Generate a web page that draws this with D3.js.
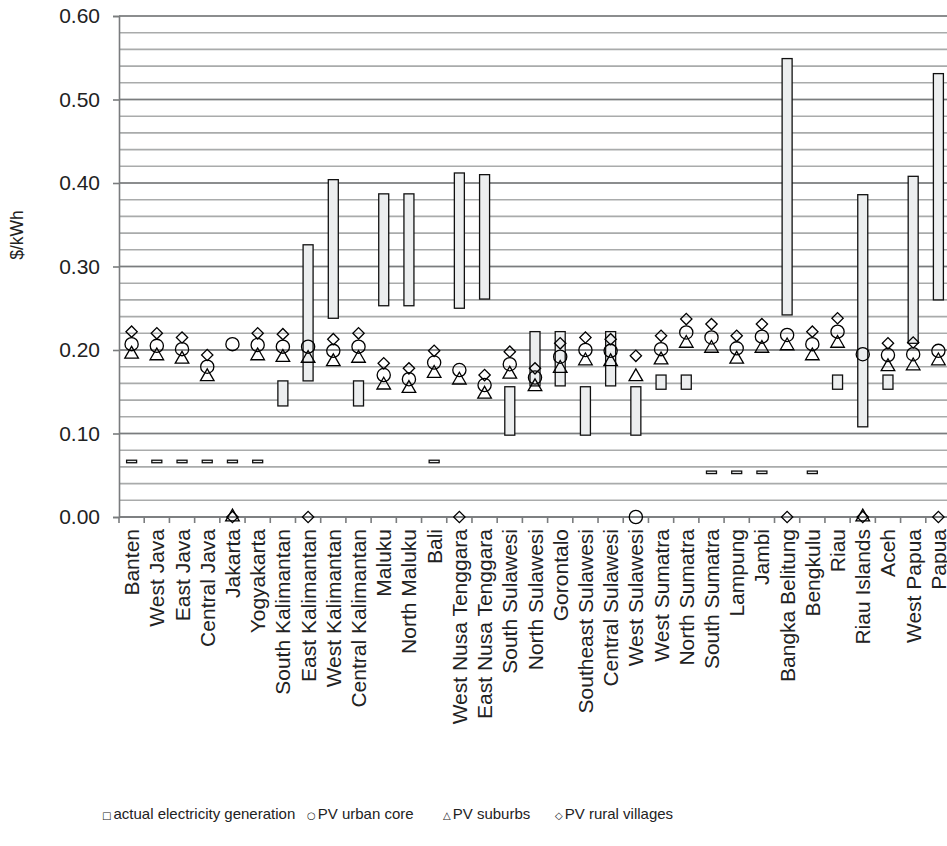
<!DOCTYPE html>
<html>
<head>
<meta charset="utf-8">
<script src="https://cdn.jsdelivr.net/npm/d3@7"></script>
<style>
  body { margin: 0; background: #fff; }
  svg { font-family: "Liberation Sans", Arial, sans-serif; }
</style>
</head>
<body>
<svg id="chart" width="947" height="846"></svg>
<script>
// regions along the x axis
const regions = ["Banten", "West Java", "East Java", "Central Java", "Jakarta", "Yogyakarta",
  "South Kalimantan", "East Kalimantan", "West Kalimantan", "Central Kalimantan", "Maluku",
  "North Maluku", "Bali", "West Nusa Tenggara", "East Nusa Tenggara", "South Sulawesi",
  "North Sulawesi", "Gorontalo", "Southeast Sulawesi", "Central Sulawesi", "West Sulawesi",
  "West Sumatra", "North Sumatra", "South Sumatra", "Lampung", "Jambi", "Bangka Belitung",
  "Bengkulu", "Riau", "Riau Islands", "Aceh", "West Papua", "Papua"];

// actual electricity generation cost range ($/kWh)
const actualLow = [0.065, 0.065, 0.065, 0.065, 0.065, 0.065, 0.133, 0.163, 0.238, 0.133, 0.253,
  0.253, 0.065, 0.250, 0.261, 0.098, 0.157, 0.157, 0.098, 0.157, 0.098, 0.153, 0.153, 0.052,
  0.052, 0.052, 0.242, 0.052, 0.153, 0.108, 0.153, 0.208, 0.260];
const actualHigh = [0.068, 0.068, 0.068, 0.068, 0.068, 0.068, 0.163, 0.326, 0.404, 0.163, 0.387,
  0.387, 0.068, 0.412, 0.410, 0.156, 0.222, 0.222, 0.156, 0.222, 0.156, 0.170, 0.170, 0.055,
  0.055, 0.055, 0.549, 0.055, 0.170, 0.386, 0.170, 0.408, 0.531];

// PV cost estimates ($/kWh)
const pvUrban = [0.207, 0.205, 0.201, 0.180, 0.207, 0.206, 0.204, 0.204, 0.199, 0.204, 0.170,
  0.165, 0.185, 0.176, 0.158, 0.183, 0.167, 0.192, 0.200, 0.199, 0.000, 0.201, 0.221, 0.215,
  0.202, 0.216, 0.218, 0.207, 0.222, 0.195, 0.194, 0.195, 0.199];
const pvSuburbs = [0.195, 0.193, 0.189, 0.168, 0.000, 0.193, 0.191, 0.190, 0.186, 0.190, 0.158,
  0.154, 0.172, 0.164, 0.147, 0.171, 0.156, 0.178, 0.187, 0.186, 0.168, 0.188, 0.208, 0.202,
  0.189, 0.202, 0.205, 0.193, 0.208, 0.000, 0.180, 0.181, 0.187];
const pvRural = [0.222, 0.220, 0.215, 0.194, 0.000, 0.220, 0.219, 0.000, 0.213, 0.220, 0.184,
  0.178, 0.199, 0.000, 0.170, 0.198, 0.178, 0.208, 0.215, 0.213, 0.193, 0.217, 0.237, 0.231,
  0.217, 0.231, 0.000, 0.222, 0.238, 0.000, 0.208, 0.209, 0.000];

const yTicks = [0, 0.1, 0.2, 0.3, 0.4, 0.5, 0.6];
const minorTicks = d3.range(0, 0.6001, 0.02);

const svg = d3.select("#chart");
const margin = { left: 119, top: 16, right: 951, bottom: 517 };

const x = d3.scaleBand().domain(regions).range([margin.left, margin.right]);
const y = d3.scaleLinear().domain([0, 0.6]).range([margin.bottom, margin.top]);

// minor + major gridlines
svg.append("g").selectAll("line")
  .data(minorTicks)
  .join("line")
  .attr("x1", margin.left).attr("x2", margin.right)
  .attr("y1", d => y(d)).attr("y2", d => y(d))
  .attr("stroke", "#a9abab")
  .attr("stroke-width", 1.6);
svg.append("g").selectAll("line")
  .data(yTicks)
  .join("line")
  .attr("x1", margin.left).attr("x2", margin.right)
  .attr("y1", d => y(d)).attr("y2", d => y(d))
  .attr("stroke", "#7a7c7e")
  .attr("stroke-width", 1.6);

// y axis
const yAxis = d3.axisLeft(y).tickValues(yTicks).tickFormat(d3.format(".2f")).tickSize(6).tickPadding(13);
const yg = svg.append("g").attr("transform", `translate(${margin.left},0)`).call(yAxis);
yg.attr("font-family", null).attr("font-size", null);
yg.select(".domain").attr("stroke", "#7a7c7e").attr("stroke-width", 1.6);
yg.selectAll(".tick line").attr("stroke", "#7a7c7e").attr("stroke-width", 1.6);
yg.selectAll("text").attr("font-size", "21px").attr("fill", "#222");

svg.append("text")
  .attr("transform", `translate(23,235) rotate(-90)`)
  .attr("text-anchor", "middle")
  .attr("font-size", "17.5px")
  .attr("fill", "#222")
  .text("$/kWh");

// x axis, ticks at the category boundaries
const xg = svg.append("g").attr("transform", `translate(0,${margin.bottom})`);
xg.append("line")
  .attr("x1", margin.left).attr("x2", margin.right)
  .attr("stroke", "#7a7c7e").attr("stroke-width", 1.6);
xg.selectAll(".bt")
  .data(regions)
  .join("line")
  .attr("class", "bt")
  .attr("x1", d => x(d)).attr("x2", d => x(d))
  .attr("y1", 0).attr("y2", 6)
  .attr("stroke", "#7a7c7e").attr("stroke-width", 1.6);
xg.selectAll("text")
  .data(regions)
  .join("text")
  .attr("transform", d => `translate(${x(d) + x.bandwidth() / 2 + 7.5},12) rotate(-90)`)
  .attr("text-anchor", "end")
  .attr("font-size", "21px")
  .attr("fill", "#222")
  .text(d => d);

// actual generation boxes
const boxW = 10;
svg.append("g").selectAll("rect")
  .data(regions)
  .join("rect")
  .attr("x", d => x(d) + x.bandwidth() / 2 - boxW / 2)
  .attr("y", (d, i) => y(actualHigh[i]))
  .attr("width", boxW)
  .attr("height", (d, i) => y(actualLow[i]) - y(actualHigh[i]))
  .attr("fill", "#eceeef")
  .attr("stroke", "#111")
  .attr("stroke-width", 1.3);

const cx = d => x(d) + x.bandwidth() / 2;

// urban core circles
svg.append("g").selectAll("circle")
  .data(regions)
  .join("circle")
  .attr("cx", cx)
  .attr("cy", (d, i) => y(pvUrban[i]))
  .attr("r", 6.6)
  .attr("fill", "none")
  .attr("stroke", "#000")
  .attr("stroke-width", 1.3);

// suburbs triangles
const tri = d3.symbol().type(d3.symbolTriangle).size(80);
svg.append("g").selectAll("path")
  .data(regions)
  .join("path")
  .attr("d", tri)
  .attr("transform", (d, i) => `translate(${cx(d)},${y(pvSuburbs[i])})`)
  .attr("fill", "none")
  .attr("stroke", "#000")
  .attr("stroke-width", 1.3);

// rural villages diamonds
const dia = d3.symbol().type(d3.symbolSquare).size(64);
svg.append("g").selectAll("path")
  .data(regions)
  .join("path")
  .attr("d", dia)
  .attr("transform", (d, i) => `translate(${cx(d)},${y(pvRural[i])}) rotate(45)`)
  .attr("fill", "none")
  .attr("stroke", "#000")
  .attr("stroke-width", 1.3);

// legend
const legend = [
  { sym: "□", label: "actual electricity generation", x: 102 },
  { sym: "○", label: "PV urban core", x: 307 },
  { sym: "△", label: "PV suburbs", x: 443 },
  { sym: "◇", label: "PV rural villages", x: 555 }
];
const lg = svg.append("g").attr("transform", "translate(0,819)");
legend.forEach(l => {
  const t = lg.append("text").attr("x", l.x).attr("font-size", "15px").attr("fill", "#222");
  t.append("tspan").attr("font-size", "10px").attr("font-family", "DejaVu Sans").text(l.sym);
  t.append("tspan").attr("dx", 2).text(l.label);
});
</script>
</body>
</html>
